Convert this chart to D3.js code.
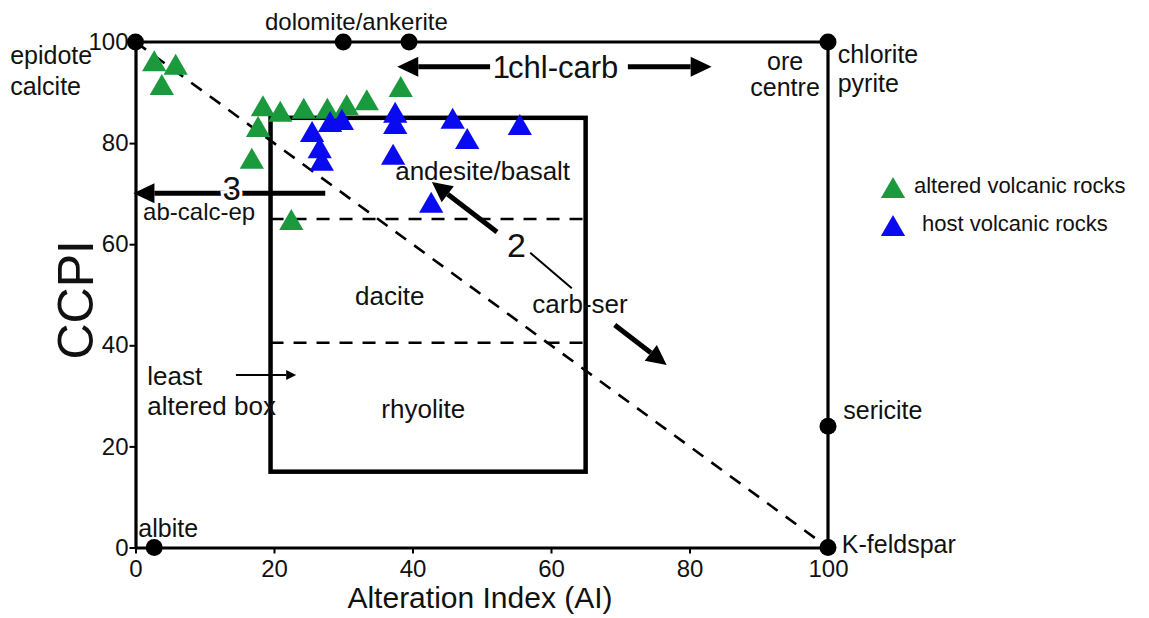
<!DOCTYPE html>
<html>
<head>
<meta charset="utf-8">
<script src="https://cdn.jsdelivr.net/npm/d3@7"></script>
<style>
  html, body { margin: 0; padding: 0; background: #fff; }
  svg { display: block; }
  text { font-family: "Liberation Sans", Arial, sans-serif; fill: #111; }
</style>
</head>
<body>
<svg id="chart" width="1149" height="618"></svg>
<script>
// Alteration box plot: Alteration Index (AI) vs chlorite-carbonate-pyrite index (CCPI)

const xTicks = [0, 20, 40, 60, 80, 100];
const yTicks = [0, 20, 40, 60, 80, 100];

// altered volcanic rocks [AI, CCPI]
const alteredAI   = [2.7, 5.8, 3.8, 18.4, 20.9, 24.3, 27.7, 30.5, 33.4, 38.3, 17.7, 16.8, 22.5];
const alteredCCPI = [95.6, 94.9, 90.9, 86.7, 85.6, 86.2, 86.2, 86.9, 87.9, 90.5, 82.6, 76.3, 64.2];

// host volcanic rocks [AI, CCPI]
const hostAI   = [25.5, 28.1, 29.8, 26.6, 26.9, 37.5, 37.5, 37.2, 45.8, 47.9, 55.5, 42.7];
const hostCCPI = [81.6, 83.6, 84.0, 78.4, 75.9, 85.4, 83.2, 77.1, 84.2, 80.2, 83.0, 67.6];

// end-member minerals
const mineralAI   = [0, 30, 39.5, 100, 100, 100, 2.7];
const mineralCCPI = [100, 100, 100, 100, 24, 0, 0];

// least altered box and its rock-type dividers
const boxAI = [19.5, 65];
const boxCCPI = [15, 85];
const dividerCCPI = [65, 40.5];
const dividerAI = [19.5, 65];

const legendLabels = ["altered volcanic rocks", "host volcanic rocks"];

const GREEN = "#1a9a3c";
const BLUE = "#0a0af0";

const svg = d3.select("#chart");
const x = d3.scaleLinear().domain([0, 100]).range([135.5, 828]);
const y = d3.scaleLinear().domain([0, 100]).range([547.5, 42]);

// axes
const xAxis = svg.append("g")
  .attr("transform", `translate(0,${y(0)})`)
  .call(d3.axisBottom(x).tickValues(xTicks).tickSize(6).tickPadding(6).tickSizeOuter(0));
const yAxis = svg.append("g")
  .attr("transform", `translate(${x(0)},0)`)
  .call(d3.axisLeft(y).tickValues(yTicks).tickSize(6).tickPadding(1).tickSizeOuter(0));
[xAxis, yAxis].forEach(g => {
  g.select(".domain").attr("stroke", "#000").attr("stroke-width", 3.2);
  g.selectAll(".tick line").attr("stroke", "#000").attr("stroke-width", 2);
  g.selectAll(".tick text").attr("font-size", 24).attr("fill", "#111")
    .attr("font-family", "Liberation Sans, Arial, sans-serif");
});

// top and right frame
svg.append("path")
  .attr("d", `M${x(0)},${y(100)}H${x(100)}V${y(0)}`)
  .attr("fill", "none").attr("stroke", "#000").attr("stroke-width", 3.2);

// diagonal dashed line
svg.append("line")
  .attr("x1", x(0)).attr("y1", y(100)).attr("x2", x(100)).attr("y2", y(0))
  .attr("stroke", "#000").attr("stroke-width", 2.6).attr("stroke-dasharray", "13,10");

// dashed dividers inside the box
svg.selectAll(".divider").data(dividerCCPI).join("line")
  .attr("class", "divider")
  .attr("x1", x(dividerAI[0])).attr("x2", x(dividerAI[1]))
  .attr("y1", d => y(d)).attr("y2", d => y(d))
  .attr("stroke", "#000").attr("stroke-width", 2.6).attr("stroke-dasharray", "13,10");

// least altered box
svg.append("rect")
  .attr("x", x(boxAI[0])).attr("y", y(boxCCPI[1]))
  .attr("width", x(boxAI[1]) - x(boxAI[0]))
  .attr("height", y(boxCCPI[0]) - y(boxCCPI[1]))
  .attr("fill", "none").attr("stroke", "#000").attr("stroke-width", 4.5);

// sample triangles
const tri = d3.symbol().type(d3.symbolTriangle).size(255);
const altered = alteredAI.map((a, i) => [a, alteredCCPI[i]]);
const host = hostAI.map((a, i) => [a, hostCCPI[i]]);
svg.append("g").selectAll("path").data(altered).join("path")
  .attr("d", tri).attr("fill", GREEN)
  .attr("transform", d => `translate(${x(d[0])},${y(d[1])})`);
svg.append("g").selectAll("path").data(host).join("path")
  .attr("d", tri).attr("fill", BLUE)
  .attr("transform", d => `translate(${x(d[0])},${y(d[1])})`);

// mineral end-member dots
svg.append("g").selectAll("circle").data(mineralAI.map((a, i) => [a, mineralCCPI[i]])).join("circle")
  .attr("cx", d => x(d[0])).attr("cy", d => y(d[1])).attr("r", 8.5).attr("fill", "#000");

// arrows, given in data coordinates
function arrow(x0, y0, x1, y1, width, head, headW) {
  const ax = x(x0), ay = y(y0), bx = x(x1), by = y(y1);
  const ang = Math.atan2(by - ay, bx - ax);
  const cx = bx - head * Math.cos(ang), cy = by - head * Math.sin(ang);
  svg.append("line").attr("x1", ax).attr("y1", ay).attr("x2", cx).attr("y2", cy)
    .attr("stroke", "#000").attr("stroke-width", width);
  const px = -Math.sin(ang) * headW, py = Math.cos(ang) * headW;
  svg.append("path")
    .attr("d", `M${bx},${by}L${cx + px},${cy + py}L${cx - px},${cy - py}Z`)
    .attr("fill", "#000");
}
arrow(51.2, 95.1, 37.8, 95.1, 5, 21, 10);   // 1 back toward chl-carb
arrow(71.1, 95.1, 83.2, 95.1, 5, 21, 10);   // 1 toward ore centre
arrow(27.4, 70.1, -0.3, 70.1, 5, 21, 10);   // 3 ab-calc-ep
arrow(52.2, 62.4, 42.8, 72.3, 5, 20, 10);   // 2 up toward andesite/basalt
arrow(69.2, 44.0, 76.7, 36.1, 5, 20, 10);   // 2 toward carb-ser
arrow(14.5, 34.1, 23.2, 34.1, 2, 10, 5);    // pointer to box
svg.append("line")
  .attr("x1", x(57)).attr("y1", y(58.3)).attr("x2", x(63)).attr("y2", y(51.3))
  .attr("stroke", "#000").attr("stroke-width", 2);

// annotation labels [text, AI, CCPI, size, anchor, halo]
const labels = [
  ["epidote", -18.1, 95.6, 25, "start", false],
  ["calcite", -18.1, 89.5, 25, "start", false],
  ["dolomite/ankerite", 18.7, 102.4, 24, "start", false],
  ["chlorite", 101.4, 95.8, 25, "start", false],
  ["pyrite", 101.4, 90.1, 25, "start", false],
  ["ore", 93.8, 94.5, 25, "middle", false],
  ["centre", 93.8, 89.3, 25, "middle", false],
  ["sericite", 102.2, 25.4, 25, "start", false],
  ["K-feldspar", 102, -1.1, 25, "start", false],
  ["albite", 0.4, 2.1, 25, "start", false],
  ["ab-calc-ep", 1.1, 64.7, 24, "start", false],
  ["andesite/basalt", 37.5, 72.7, 26, "start", false],
  ["dacite", 31.7, 48, 26, "start", false],
  ["carb-ser", 57.3, 46.4, 26, "start", false],
  ["rhyolite", 35.5, 25.6, 26, "start", false],
  ["least", 1.7, 32.1, 26, "start", false],
  ["altered box", 1.7, 26.2, 26, "start", false],
  ["3", 13.9, 68.8, 33, "middle", true],
  ["2", 55, 57.5, 34, "middle", false],
  ["1", 51.6, 92.9, 31, "start", false],
  ["chl-carb", 53.8, 92.9, 31, "start", false]
];
svg.append("g").selectAll("text").data(labels).join("text")
  .attr("x", d => x(d[1])).attr("y", d => y(d[2]))
  .attr("font-size", d => d[3]).attr("text-anchor", d => d[4])
  .attr("stroke", d => d[5] ? "#fff" : null)
  .attr("stroke-width", d => d[5] ? 6 : null)
  .attr("paint-order", "stroke")
  .text(d => d[0]);

// axis titles
svg.append("text")
  .attr("transform", `translate(93,${(y(0) + y(100)) / 2 + 5}) rotate(-90)`)
  .attr("text-anchor", "middle").attr("font-size", 50).text("CCPI");
svg.append("text")
  .attr("x", 480).attr("y", 608)
  .attr("text-anchor", "middle").attr("font-size", 30).text("Alteration Index (AI)");

// legend
const legend = svg.append("g");
[GREEN, BLUE].forEach((c, i) => {
  legend.append("path").attr("d", tri).attr("fill", c)
    .attr("transform", `translate(893,${191 + i * 38})`);
  legend.append("text").attr("x", i === 0 ? 914 : 922).attr("y", 193 + i * 38)
    .attr("font-size", 22).text(legendLabels[i]);
});
</script>
</body>
</html>
